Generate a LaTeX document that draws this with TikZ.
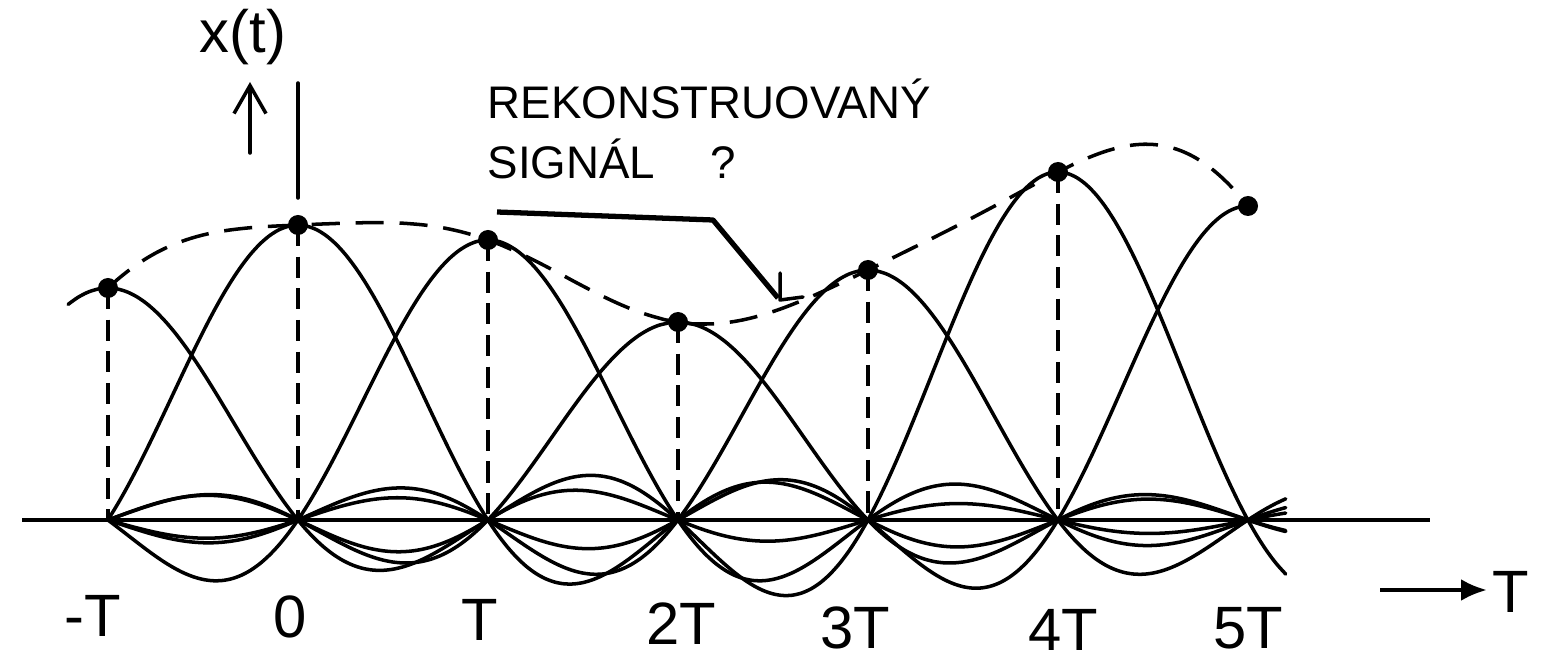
\documentclass[tikz,border=0pt]{standalone}
\usepackage{fontspec}
\setmainfont{Liberation Sans}
\usetikzlibrary{arrows.meta}

\tikzset{
  declare function={
    sinc(\t)=sin(180*(\t+0.0007))/(pi*(\t+0.0007));
    recon(\t)=2.32*sinc(\t+1)+2.95*sinc(\t)+2.80*sinc(\t-1)+1.98*sinc(\t-2)
             +2.50*sinc(\t-3)+3.48*sinc(\t-4)+3.14*sinc(\t-5);
  }
}

\begin{document}
\begin{tikzpicture}[
    curve/.style={line width=1pt,line join=round,line cap=round},
    guide/.style={line width=0.95pt,dash pattern=on 6pt off 3pt},
    envelope/.style={line width=1pt,dash pattern=on 8pt off 4.5pt},
    dot/.style={circle,fill=black,inner sep=0pt,minimum size=2mm},
    lbl/.style={font=\fontsize{17}{19}\selectfont,inner sep=0pt},
    note/.style={font=\fontsize{13}{17}\selectfont,align=left,inner sep=0pt}
  ]
  \useasboundingbox (0,-1.41) rectangle (15.48,5.20);

  % time axis
  \coordinate (axL) at (0.22,0);
  \coordinate (axR) at (14.30,0);
  \draw[line width=1.2pt] (axL) -- (axR);

  % sample points: index / value / name
  \foreach \k/\a/\n in {-1/2.32/m1,0/2.95/0,1/2.80/1,2/1.98/2,3/2.50/3,4/3.48/4,5/3.14/5} {
    \coordinate (base\n) at ({2.98+1.9*\k},0);
    \coordinate (top\n) at ({2.98+1.9*\k},\a);
  }

  % one sinc per sample
  \foreach \k/\a/\lo/\hi in {-1/2.32/-1.21/5.2,0/2.95/-1/5.2,1/2.80/-1/5.2,
      2/1.98/-1/5.2,3/2.50/-1/5.2,4/3.48/-1/5.2,5/3.14/-1/5}
    \draw[curve] plot[domain=\lo:\hi,samples=125,smooth]
      ({2.98+1.9*\x},{\a*sinc(\x-(\k))});

  % dashed verticals
  \foreach \n in {m1,0,1,2,3,4}
    \draw[guide] (top\n) -- (base\n);

  % reconstructed signal
  \draw[envelope] plot[domain=-1:5,samples=121,smooth] ({2.98+1.9*\x},{recon(\x)});

  % sample dots
  \foreach \n in {m1,0,1,2,3,4,5}
    \node[dot] (dot\n) at (top\n) {};

  % value axis
  \coordinate (yaxA) at (2.98,3.22);
  \coordinate (yaxB) at (2.98,4.37);
  \draw[curve] (yaxA) -- (yaxB);
  \coordinate (upA) at (2.50,3.67);
  \coordinate (upB) at (2.50,4.38);
  \draw[curve,-{Straight Barb[length=2.8mm,width=3.2mm]}] (upA) -- (upB);
  \node[lbl] (xt) at (2.43,4.83) {x(t)};

  % tick labels
  \node[lbl] (lm1) at (0.93,-0.96) {-T};
  \node[lbl] (l0) at (2.90,-0.97) {0};
  \node[lbl] (l1) at (4.80,-1.00) {T};
  \node[lbl] (l2) at (6.81,-1.04) {2T};
  \node[lbl] (l3) at (8.55,-1.08) {3T};
  \node[lbl] (l4) at (10.63,-1.10) {4T};
  \node[lbl] (l5) at (12.48,-1.08) {5T};

  % time arrow
  \coordinate (taA) at (13.80,-0.70);
  \coordinate (taB) at (14.87,-0.70);
  \draw[line width=1.2pt,-{Latex[length=2.6mm,width=2.2mm]}] (taA) -- (taB);
  \node[lbl,anchor=west] (lt) at (14.92,-0.72) {T};

  % note
  \node[note,anchor=north west] (recsig) at (4.87,4.42) {REKONSTRUOVANÝ\\SIGNÁL\hspace{0.55cm}?};
  \coordinate (ulA) at (4.97,3.08);
  \coordinate (ulB) at (7.13,3.00);
  \coordinate (tip) at (7.78,2.22);
  \draw[line width=1.5pt,line join=round] (ulA) -- (ulB) -- (tip);
  \coordinate (hookA) at (7.80,2.47);
  \coordinate (hookB) at (7.80,2.20);
  \coordinate (hookC) at (8.03,2.23);
  \draw[curve] (hookA) -- (hookB) -- (hookC);
\end{tikzpicture}
\end{document}
